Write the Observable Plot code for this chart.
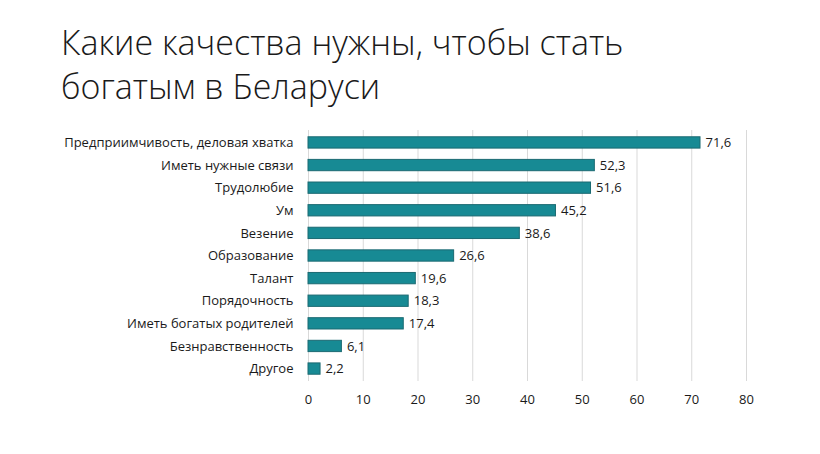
<!DOCTYPE html>
<html>
<head>
<meta charset="utf-8">
<script src="https://cdn.jsdelivr.net/npm/d3@7"></script>
<script src="https://cdn.jsdelivr.net/npm/@observablehq/plot@0.6"></script>
<style>
  html, body { margin: 0; padding: 0; background: #fff; }
  #wrap { width: 820px; height: 454px; position: relative; overflow: hidden; }
  #title { position: absolute; left: 61px; top: 20px; font-family: "Open Sans", sans-serif; font-weight: 300; font-size: 34px; line-height: 44px; color: #1a1a1a; letter-spacing: 0px; white-space: nowrap; }
  #chart { position: absolute; left: 0; top: 115px; }
</style>
</head>
<body>
<div id="wrap">
  <div id="title">Какие качества нужны, чтобы стать<br>богатым в Беларуси</div>
  <div id="chart"></div>
</div>
<script>
const categories = [
  "Предприимчивость, деловая хватка",
  "Иметь нужные связи",
  "Трудолюбие",
  "Ум",
  "Везение",
  "Образование",
  "Талант",
  "Порядочность",
  "Иметь богатых родителей",
  "Безнравственность",
  "Другое"
];
const values = [71.6, 52.3, 51.6, 45.2, 38.6, 26.6, 19.6, 18.3, 17.4, 6.1, 2.2];
const xTicks = [0, 10, 20, 30, 40, 50, 60, 70, 80];

const data = categories.map((c, i) => ({category: c, value: values[i]}));
const fmt = v => v.toFixed(1).replace(".", ",");

const plot = Plot.plot({
  width: 820,
  height: 330,
  marginTop: 15,
  marginBottom: 64,
  marginLeft: 308,
  marginRight: 74,
  style: {fontFamily: "Open Sans, sans-serif", fontSize: "13px", color: "#1a1a1a", background: "transparent"},
  x: {domain: [0, 80], ticks: xTicks, grid: false, label: null},
  y: {domain: categories, paddingInner: 0.5, paddingOuter: 0.3, round: false, label: null},
  marks: [
    Plot.ruleX(xTicks, {stroke: "#d9d9d9", strokeWidth: 1}),
    Plot.barX(data, {x: "value", y: "category", fill: "#178a94", stroke: "#1b6a72", strokeWidth: 1}),
    Plot.text(data, {x: "value", y: "category", text: d => fmt(d.value), textAnchor: "start", dx: 5, fontSize: 13, fill: "#1a1a1a"}),
    Plot.axisX({ticks: xTicks, tickSize: 0, tickPadding: 13, fontSize: 13, label: null, tickFormat: d => String(d)}),
    Plot.axisY({tickSize: 0, tickPadding: 15, fontSize: 13, label: null})
  ]
});
document.getElementById("chart").appendChild(plot);
</script>
</body>
</html>
